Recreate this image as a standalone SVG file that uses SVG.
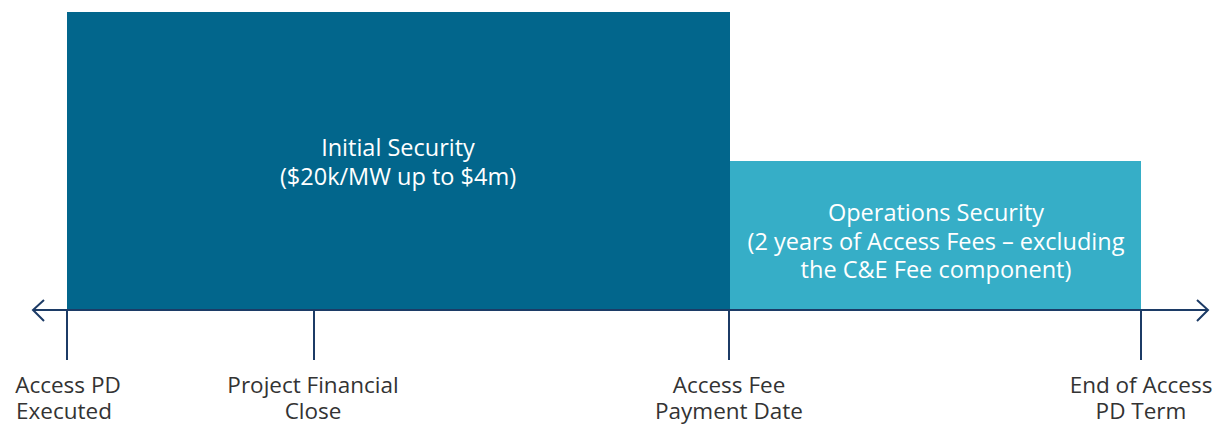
<svg xmlns="http://www.w3.org/2000/svg" width="1225" height="424" viewBox="0 0 1225 424">
<style>
.bar-text{font-family:"Open Sans",Lato,"Liberation Sans",sans-serif;font-size:23.5px;fill:#ffffff;text-anchor:middle}
.lbl{font-family:"Open Sans",Lato,"Liberation Sans",sans-serif;font-size:22.5px;fill:#333333;text-anchor:middle}
.ax{stroke:#1c3b66;stroke-width:2;fill:none}
</style>
<rect width="1225" height="424" fill="#ffffff"/>
<g id="initial-security">
<rect x="67" y="12" width="663" height="298" fill="#02668c"/>
<text class="bar-text" x="398" y="156">Initial Security</text>
<text class="bar-text" x="398" y="185">($20k/MW up to $4m)</text>
</g>
<g id="operations-security">
<rect x="730" y="161" width="411" height="149" fill="#36aec7"/>
<text class="bar-text" x="936" y="221">Operations Security</text>
<text class="bar-text" x="936" y="250">(2 years of Access Fees – excluding</text>
<text class="bar-text" x="936" y="278">the C&amp;E Fee component)</text>
</g>
<g id="connectors">
<line class="ax" x1="33" y1="310" x2="1208" y2="310"/>
<polyline class="ax" points="44,300 33,310 44,321"/>
<polyline class="ax" points="1197,300 1208,310 1197,321"/>
<line class="ax" x1="67" y1="310" x2="67" y2="360"/>
<line class="ax" x1="314" y1="310" x2="314" y2="360"/>
<line class="ax" x1="729" y1="310" x2="729" y2="360"/>
<line class="ax" x1="1141" y1="310" x2="1141" y2="360"/>
</g>
<g id="label-access-pd-executed">
<text class="lbl" x="68" y="393">Access PD</text>
<text class="lbl" x="64" y="419">Executed</text>
</g>
<g id="label-project-financial-close">
<text class="lbl" x="313" y="393">Project Financial</text>
<text class="lbl" x="313" y="419">Close</text>
</g>
<g id="label-access-fee-payment-date">
<text class="lbl" x="729" y="393">Access Fee</text>
<text class="lbl" x="729" y="419">Payment Date</text>
</g>
<g id="label-end-of-access-pd-term">
<text class="lbl" x="1141" y="393">End of Access</text>
<text class="lbl" x="1141" y="419">PD Term</text>
</g>
</svg>
